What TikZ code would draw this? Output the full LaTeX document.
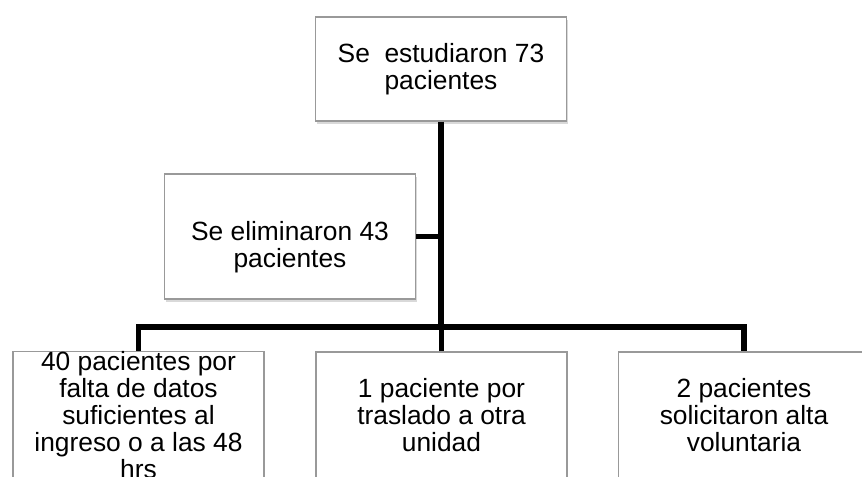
\documentclass[tikz,border=0pt]{standalone}
\usepackage{fontspec}
\setmainfont{Liberation Sans}
\usetikzlibrary{shadows}

\begin{document}
\begin{tikzpicture}[every node/.style={align=center, font=\fontsize{15}{15.4}\selectfont},
    caja/.style={draw=gray!80, line width=0.6pt, fill=white,
        minimum width=5.02cm, inner sep=0pt,
        drop shadow={shadow xshift=0.6pt, shadow yshift=-1.6pt, opacity=0.3, fill=gray}},
    linea/.style={line width=3.4pt, black}]

    \useasboundingbox (0,0) rectangle (17.24,-9.52);
    \clip (0,0) rectangle (17.24,-9.52);

    \node[caja, minimum height=2.08cm] (sup) at (8.82,-1.38) {Se~ estudiaron 73\\pacientes};

    \node[caja, minimum height=2.5cm, text height=1.36cm] (elim) at (5.80,-4.73) {Se eliminaron 43\\pacientes};


    \node[caja, minimum height=2.52cm] (c1) at (2.77,-8.30) {40 pacientes por\\falta de datos\\suficientes al\\ingreso o a las 48\\hrs};

    \node[caja, minimum height=2.52cm] (c2) at (8.83,-8.30) {1 paciente por\\traslado a otra\\unidad};

    \node[caja, minimum height=2.52cm] (c3) at (14.88,-8.30) {2 pacientes\\solicitaron alta\\voluntaria};

    \coordinate (barra) at (8.84,-6.54);

    % conectores
    \draw[linea] (sup.south) -- (sup.south |- barra);
    \draw[linea] (elim.east) -- (elim.east -| sup.south);
    \draw[linea, line join=miter] (c1.north) |- (barra) -| (c3.north);
    \draw[linea] (c2.north) -- (c2.north |- barra);

\end{tikzpicture}
\end{document}
